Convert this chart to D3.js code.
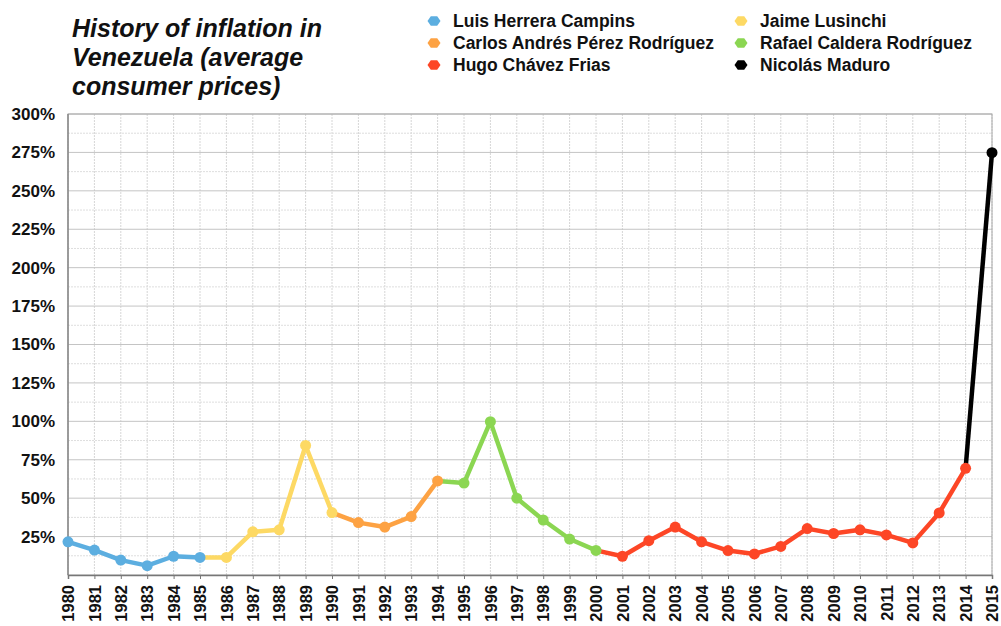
<!DOCTYPE html>
<html>
<head>
<meta charset="utf-8">
<script src="https://cdn.jsdelivr.net/npm/d3@7"></script>
<style>
  body { margin: 0; background: #fff; }
  text { font-family: "Liberation Sans", Arial, Helvetica, sans-serif; font-weight: bold; fill: #111; }
</style>
</head>
<body>
<div id="chart"></div>
<script>
// inflation, average consumer prices (%)
var years = [1980, 1981, 1982, 1983, 1984, 1985, 1986, 1987, 1988, 1989,
             1990, 1991, 1992, 1993, 1994, 1995, 1996, 1997, 1998, 1999,
             2000, 2001, 2002, 2003, 2004, 2005, 2006, 2007, 2008, 2009,
             2010, 2011, 2012, 2013, 2014, 2015];
var inflation = [21.6, 16.2, 9.7, 6.1, 12.2, 11.4, 11.4, 28.1, 29.4, 84.3,
                 40.6, 34.1, 31.2, 38.0, 61.2, 59.8, 99.8, 50.0, 35.8, 23.4,
                 16.0, 12.2, 22.3, 31.2, 21.6, 15.9, 13.7, 18.6, 30.2, 27.0,
                 29.4, 26.1, 20.9, 40.4, 69.4, 274.8];

// presidents and the years that belong to each
var presidents = ["Luis Herrera Campins", "Jaime Lusinchi", "Carlos Andrés Pérez Rodríguez",
                  "Rafael Caldera Rodríguez", "Hugo Chávez Frias", "Nicolás Maduro"];
var firstYear = [1980, 1986, 1991, 1995, 2001, 2015];
var lastYear  = [1985, 1990, 1994, 2000, 2014, 2015];
var presColors = ["#5caee0", "#fdd964", "#fda243", "#8bd652", "#fd4626", "#000000"];

var yTicks = [25, 50, 75, 100, 125, 150, 175, 200, 225, 250, 275, 300];

var W = 1001, H = 626;
var plotLeft = 68, plotRight = 992, plotTop = 114, plotBottom = 575;

var svg = d3.select("#chart").append("svg")
    .attr("width", W)
    .attr("height", H);

var x = d3.scaleLinear().domain([1980, 2015]).range([plotLeft, plotRight]);
var y = d3.scaleLinear().domain([0, 300]).range([plotBottom, plotTop]);

// title
var title = svg.append("text")
    .attr("x", 72)
    .style("font-size", "25px")
    .style("font-style", "italic");
["History of inflation in", "Venezuela (average", "consumer prices)"].forEach(function(t, i) {
  title.append("tspan").attr("x", 72).attr("y", 36.5 + i * 29).text(t);
});

// legend
var legendX = [434, 741], legendY = [21, 43, 65];
var marker = "M-6.5,0L-3.2,-4.8L3.2,-4.8L6.5,0L3.2,4.8L-3.2,4.8Z";
var legend = svg.selectAll(".legend")
    .data(presidents)
    .enter().append("g")
    .attr("class", "legend")
    .attr("transform", function(d, i) {
      return "translate(" + legendX[i % 2] + "," + legendY[Math.floor(i / 2)] + ")";
    });
legend.append("path")
    .attr("d", marker)
    .style("fill", function(d, i) { return presColors[i]; });
legend.append("text")
    .attr("x", 19)
    .attr("dy", "0.36em")
    .style("font-size", "17.5px")
    .text(function(d) { return d; });

// grid
var grid = svg.append("g");
grid.selectAll(".vgrid")
    .data(years)
    .enter().append("line")
    .attr("class", "vgrid")
    .attr("x1", function(d) { return x(d); })
    .attr("x2", function(d) { return x(d); })
    .attr("y1", plotTop)
    .attr("y2", plotBottom)
    .style("stroke", "#d6d6d6")
    .style("stroke-dasharray", "2,1");
grid.selectAll(".minor")
    .data(yTicks)
    .enter().append("line")
    .attr("class", "minor")
    .attr("x1", plotLeft)
    .attr("x2", plotRight)
    .attr("y1", function(d) { return y(d - 12.5); })
    .attr("y2", function(d) { return y(d - 12.5); })
    .style("stroke", "#dedede")
    .style("stroke-dasharray", "2,1");
grid.selectAll(".major")
    .data(yTicks)
    .enter().append("line")
    .attr("class", "major")
    .attr("x1", plotLeft)
    .attr("x2", plotRight)
    .attr("y1", function(d) { return y(d); })
    .attr("y2", function(d) { return y(d); })
    .style("stroke", "#c4c4c4");

// frame
svg.append("rect")
    .attr("x", plotLeft).attr("y", plotTop)
    .attr("width", plotRight - plotLeft).attr("height", plotBottom - plotTop)
    .style("fill", "none")
    .style("stroke", "#a8a8a8");
svg.append("line")
    .attr("x1", plotLeft).attr("x2", plotLeft).attr("y1", plotTop).attr("y2", plotBottom)
    .style("stroke", "#8a8a8a").style("stroke-width", 1.5);

// axes
var xAxis = d3.axisBottom(x)
    .tickValues(years)
    .tickFormat(d3.format("d"))
    .tickSize(4)
    .tickPadding(10);
var gx = svg.append("g")
    .attr("transform", "translate(0," + plotBottom + ")")
    .call(xAxis);
gx.select(".domain").style("stroke", "#777").style("stroke-width", 1.5);
gx.selectAll(".tick line").style("stroke", "#777");
gx.selectAll("text")
    .style("font-size", "16.5px")
    .style("font-family", "'Liberation Sans', Arial, sans-serif")
    .style("fill", "#111")
    .style("text-anchor", "end")
    .attr("x", -10)
    .attr("y", 0)
    .attr("dy", "0.35em")
    .attr("transform", "rotate(-90)");

var yAxis = d3.axisLeft(y)
    .tickValues(yTicks)
    .tickFormat(function(d) { return d + "%"; })
    .tickSize(0)
    .tickPadding(13);
var gy = svg.append("g")
    .attr("transform", "translate(" + plotLeft + ",0)")
    .call(yAxis);
gy.select(".domain").remove();
gy.selectAll("text")
    .style("font-size", "17px")
    .style("font-family", "'Liberation Sans', Arial, sans-serif")
    .style("fill", "#111");

// lines: each term starts from the last point of the previous one
var line = d3.line()
    .x(function(d) { return x(d.year); })
    .y(function(d) { return y(d.value); });

var points = years.map(function(yr, i) { return {year: yr, value: inflation[i]}; });

var terms = presidents.map(function(name, i) {
  var from = i === 0 ? firstYear[i] : lastYear[i - 1];
  return {
    color: presColors[i],
    path: points.filter(function(p) { return p.year >= from && p.year <= lastYear[i]; }),
    dots: points.filter(function(p) { return p.year >= firstYear[i] && p.year <= lastYear[i]; })
  };
});

svg.selectAll(".term")
    .data(terms)
    .enter().append("path")
    .attr("class", "term")
    .attr("d", function(d) { return line(d.path); })
    .style("fill", "none")
    .style("stroke", function(d) { return d.color; })
    .style("stroke-width", 4.5)
    .style("stroke-linejoin", "round");

terms.forEach(function(t) {
  svg.selectAll(null)
      .data(t.dots)
      .enter().append("circle")
      .attr("cx", function(d) { return x(d.year); })
      .attr("cy", function(d) { return y(d.value); })
      .attr("r", 5.5)
      .style("fill", t.color);
});
</script>
</body>
</html>
